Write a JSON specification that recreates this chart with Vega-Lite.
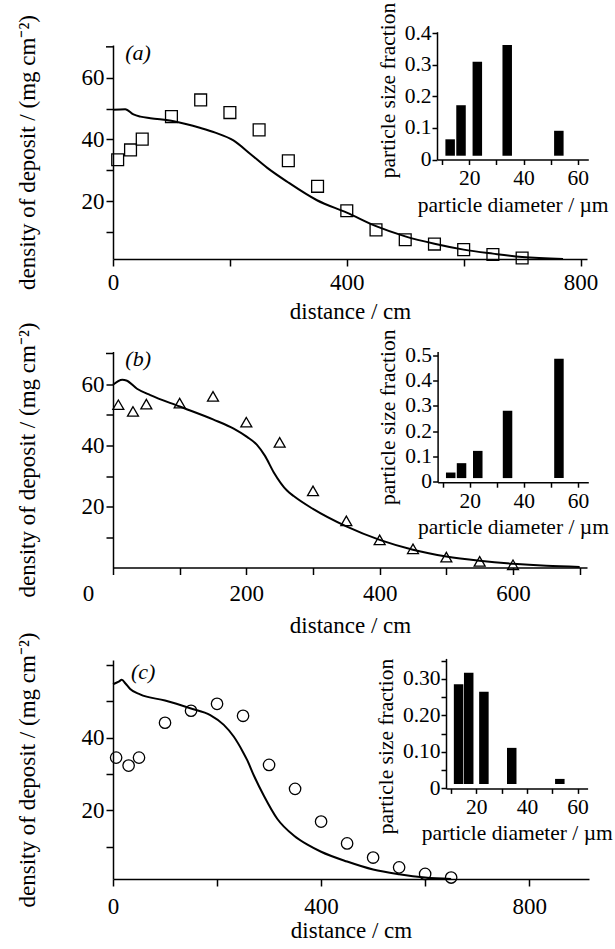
{
 "$schema": "https://vega.github.io/schema/vega-lite/v6.json",
 "padding": {"left": 15, "top": 2, "right": 2, "bottom": 5},
 "spacing": 92.5,
 "bounds": "flush",
 "config": {
  "font": "Liberation Serif",
  "view": {"stroke": null},
  "text": {"font": "Liberation Serif"},
  "axis": {"grid": false, "labelOverlap": false, "labelFlush": false, "domainColor": "black", "tickColor": "black", "labelColor": "black", "titleColor": "black", "labelFontSize": 23, "titleFontSize": 23, "titleFontWeight": "normal", "tickSize": 7, "domainWidth": 1.5, "tickWidth": 1.5, "labelPadding": 2, "labelFont": "Liberation Serif", "titleFont": "Liberation Serif"}
 },
 "datasets": {
  "curveA": [{"distance":0,"density":49.6},{"distance":21,"density":49.8},{"distance":35,"density":48.1},{"distance":47,"density":47.4},{"distance":64,"density":46.9},{"distance":104,"density":45.9},{"distance":150,"density":43.7},{"distance":175,"density":42.2},{"distance":206,"density":39.7},{"distance":235,"density":35.3},{"distance":264,"density":30.8},{"distance":298,"density":26.3},{"distance":349,"density":20.3},{"distance":400,"density":16.3},{"distance":450,"density":11.9},{"distance":500,"density":8.6},{"distance":550,"density":6.2},{"distance":600,"density":4.3},{"distance":650,"density":3.0},{"distance":700,"density":1.9},{"distance":770,"density":1.3}],
  "obsA": [{"distance":8,"density":33.4},{"distance":30,"density":36.6},{"distance":50,"density":40.1},{"distance":100,"density":47.4},{"distance":150,"density":52.8},{"distance":200,"density":48.7},{"distance":250,"density":43.1},{"distance":300,"density":33.1},{"distance":350,"density":24.8},{"distance":400,"density":16.9},{"distance":450,"density":10.7},{"distance":500,"density":7.5},{"distance":550,"density":6.1},{"distance":600,"density":4.3},{"distance":650,"density":2.7},{"distance":700,"density":1.6}],
  "psdA": [{"diameter":13,"fraction":0.064},{"diameter":17,"fraction":0.172},{"diameter":23,"fraction":0.31},{"diameter":34,"fraction":0.3625},{"diameter":53,"fraction":0.091}],
  "curveB": [{"distance":0,"density":59.8},{"distance":14,"density":61.4},{"distance":20,"density":61.2},{"distance":36,"density":58.5},{"distance":56,"density":56.4},{"distance":100,"density":52.7},{"distance":150,"density":48.5},{"distance":181,"density":45.5},{"distance":201,"density":42.8},{"distance":216,"density":40.2},{"distance":228,"density":36.6},{"distance":241,"density":31.3},{"distance":261,"density":25.3},{"distance":271,"density":23.5},{"distance":300,"density":19.3},{"distance":350,"density":13.6},{"distance":400,"density":9.2},{"distance":450,"density":6.0},{"distance":500,"density":3.8},{"distance":550,"density":2.4},{"distance":600,"density":1.4},{"distance":650,"density":0.75},{"distance":700,"density":0.4}],
  "obsB": [{"distance":8,"density":53.3},{"distance":30,"density":51.1},{"distance":50,"density":53.5},{"distance":100,"density":53.8},{"distance":150,"density":56.0},{"distance":200,"density":47.6},{"distance":250,"density":41.0},{"distance":300,"density":25.2},{"distance":350,"density":15.4},{"distance":400,"density":9.2},{"distance":450,"density":6.3},{"distance":500,"density":3.6},{"distance":550,"density":2.2},{"distance":600,"density":1.1}],
  "psdB": [{"diameter":13,"fraction":0.037},{"diameter":17,"fraction":0.074},{"diameter":23,"fraction":0.1225},{"diameter":34,"fraction":0.281},{"diameter":53,"fraction":0.486}],
  "curveC": [{"distance":0,"density":54.7},{"distance":11,"density":55.4},{"distance":17,"density":55.9},{"distance":24,"density":54.9},{"distance":33,"density":53.4},{"distance":52,"density":51.9},{"distance":100,"density":50.2},{"distance":150,"density":48.0},{"distance":187,"density":46.2},{"distance":213,"density":43.5},{"distance":232,"density":40.3},{"distance":250,"density":36.0},{"distance":258,"density":33.8},{"distance":271,"density":29.5},{"distance":290,"density":24.0},{"distance":316,"density":17.6},{"distance":348,"density":13.0},{"distance":373,"density":10.6},{"distance":400,"density":8.6},{"distance":450,"density":5.9},{"distance":500,"density":3.7},{"distance":550,"density":2.4},{"distance":600,"density":1.5},{"distance":650,"density":1.1}],
  "obsC": [{"distance":6,"density":34.5},{"distance":30,"density":32.3},{"distance":50,"density":34.5},{"distance":100,"density":44.1},{"distance":150,"density":47.4},{"distance":200,"density":49.3},{"distance":250,"density":46.0},{"distance":300,"density":32.5},{"distance":350,"density":25.9},{"distance":400,"density":16.9},{"distance":450,"density":10.9},{"distance":500,"density":7.0},{"distance":550,"density":4.3},{"distance":600,"density":2.5},{"distance":650,"density":1.5}],
  "psdC": [{"diameter":13,"fraction":0.285},{"diameter":17,"fraction":0.317},{"diameter":23,"fraction":0.265},{"diameter":34,"fraction":0.111},{"diameter":53,"fraction":0.026}]
 },
 "vconcat": [
  {
   "width": 474, "height": 214,
   "resolve": {"scale": {"x": "independent", "y": "independent"}},
   "layer": [
    {"layer": [
      {"data": {"name": "curveA"}, "mark": {"type": "line", "color": "black", "strokeWidth": 2, "interpolate": "monotone"},
       "encoding": {
        "x": {"field": "distance", "type": "quantitative", "scale": {"domain": [0, 811], "nice": false, "zero": false},
              "axis": {"values": [0,200,400,600,800], "labelOverlap": false, "labelExpr": "datum.value == 0 || datum.value == 400 || datum.value == 800 ? datum.label : ''", "title": "distance / cm", "labelPadding": 5.8, "titlePadding": 5.4}},
        "y": {"field": "density", "type": "quantitative", "scale": {"domain": [1.26, 70.6], "nice": false, "zero": false},
              "axis": {"values": [10,20,30,40,50,60], "labelOverlap": false, "labelExpr": "datum.value == 20 || datum.value == 40 || datum.value == 60 ? datum.label : ''", "title": "density of deposit / (mg cm\u207b\u00b2)", "titlePadding": 42}}
       }},
      {"data": {"values": [{"tick": 70}]}, "mark": {"type": "rule", "color": "black", "strokeWidth": 1.5},
       "encoding": {"x": {"datum": -12, "type": "quantitative"}, "x2": {"datum": 0}, "y": {"field": "tick", "type": "quantitative"}}},
      {"data": {"name": "obsA"}, "mark": {"type": "point", "shape": "square", "filled": false, "color": "black", "size": 140, "strokeWidth": 1.3, "opacity": 1},
       "encoding": {"x": {"field": "distance", "type": "quantitative"}, "y": {"field": "density", "type": "quantitative"}}},
      {"data": {"values": [{"label": "(a)"}]}, "mark": {"type": "text", "align": "left", "baseline": "middle", "fontSize": 22, "fontStyle": "italic", "color": "black"},
       "encoding": {"x": {"datum": 21, "type": "quantitative"}, "y": {"datum": 68, "type": "quantitative"}, "text": {"field": "label"}}}
    ]},
    {"data": {"name": "psdA"}, "mark": {"type": "bar", "color": "black", "width": 9.5},
     "encoding": {
      "x": {"field": "diameter", "type": "quantitative", "scale": {"domain": [10, 62], "range": [324, 475.3], "nice": false, "zero": false},
            "axis": {"orient": "bottom", "offset": -99.5, "values": [10,20,30,40,50,60], "labelOverlap": false, "labelExpr": "datum.value == 20 || datum.value == 40 || datum.value == 60 ? datum.label : ''", "title": "particle diameter / \u00b5m", "labelFontSize": 21.5, "titleFontSize": 21.5, "tickSize": 5, "labelPadding": 3, "titlePadding": 5}},
      "y": {"field": "fraction", "type": "quantitative", "scale": {"domain": [0, 0.405], "range": [114.5, -13.3], "nice": false, "zero": false},
            "axis": {"orient": "left", "offset": -324, "values": [0,0.1,0.2,0.3,0.4], "labelOverlap": false, "labelExpr": "datum.value == 0 ? '0\u00a0\u00a0' : datum.label", "title": "particle size fraction", "titleY": 45, "labelFontSize": 21.5, "titleFontSize": 21.5, "tickSize": 5, "labelPadding": 1, "titlePadding": 5}},
      "y2": {"datum": 0.012}
     }}
   ]
  },
  {
   "width": 474, "height": 216,
   "resolve": {"scale": {"x": "independent", "y": "independent"}},
   "layer": [
    {"layer": [
      {"data": {"name": "curveB"}, "mark": {"type": "line", "color": "black", "strokeWidth": 2, "interpolate": "monotone"},
       "encoding": {
        "x": {"field": "distance", "type": "quantitative", "scale": {"domain": [0, 711], "nice": false, "zero": false},
              "axis": {"values": [0,100,200,300,400,500,600,700], "labelOverlap": false, "labelExpr": "datum.value == 0 || datum.value == 200 || datum.value == 400 || datum.value == 600 ? datum.label : ''", "labelOffset": {"condition": {"test": "datum.value == 0", "value": -25}, "value": 0}, "title": "distance / cm", "labelPadding": 7.5, "titlePadding": 9.7}},
        "y": {"field": "density", "type": "quantitative", "scale": {"domain": [0.2, 70.65], "nice": false, "zero": false},
              "axis": {"values": [10,20,30,40,50,60], "labelOverlap": false, "labelExpr": "datum.value == 20 || datum.value == 40 || datum.value == 60 ? datum.label : ''", "title": "density of deposit / (mg cm\u207b\u00b2)", "titlePadding": 42}}
       }},
      {"data": {"values": [{"tick": 70}]}, "mark": {"type": "rule", "color": "black", "strokeWidth": 1.5},
       "encoding": {"x": {"datum": -10.5, "type": "quantitative"}, "x2": {"datum": 0}, "y": {"field": "tick", "type": "quantitative"}}},
      {"data": {"name": "obsB"}, "mark": {"type": "point", "shape": "triangle-up", "filled": false, "color": "black", "size": 120, "strokeWidth": 1.3, "opacity": 1},
       "encoding": {"x": {"field": "distance", "type": "quantitative"}, "y": {"field": "density", "type": "quantitative"}}},
      {"data": {"values": [{"label": "(b)"}]}, "mark": {"type": "text", "align": "left", "baseline": "middle", "fontSize": 22, "fontStyle": "italic", "color": "black"},
       "encoding": {"x": {"datum": 18.5, "type": "quantitative"}, "y": {"datum": 68.2, "type": "quantitative"}, "text": {"field": "label"}}}
    ]},
    {"data": {"name": "psdB"}, "mark": {"type": "bar", "color": "black", "width": 9.5},
     "encoding": {
      "x": {"field": "diameter", "type": "quantitative", "scale": {"domain": [10, 62], "range": [324.6, 475.3], "nice": false, "zero": false},
            "axis": {"orient": "bottom", "offset": -85.3, "values": [10,20,30,40,50,60], "labelOverlap": false, "labelExpr": "datum.value == 20 || datum.value == 40 || datum.value == 60 ? datum.label : ''", "title": "particle diameter / \u00b5m", "labelFontSize": 21.5, "titleFontSize": 21.5, "tickSize": 5, "labelPadding": 3, "titlePadding": 5}},
      "y": {"field": "fraction", "type": "quantitative", "scale": {"domain": [0, 0.515], "range": [130.4, 0], "nice": false, "zero": false},
            "axis": {"orient": "left", "offset": -324.6, "values": [0,0.1,0.2,0.3,0.4,0.5], "labelOverlap": false, "labelExpr": "datum.value == 0 ? '0\u00a0\u00a0' : datum.label", "title": "particle size fraction", "labelFontSize": 21.5, "titleFontSize": 21.5, "tickSize": 5, "labelPadding": 1, "titlePadding": 5}},
      "y2": {"datum": 0.015}
     }}
   ]
  },
  {
   "width": 476, "height": 219,
   "resolve": {"scale": {"x": "independent", "y": "independent"}},
   "layer": [
    {"layer": [
      {"data": {"name": "curveC"}, "mark": {"type": "line", "color": "black", "strokeWidth": 2, "interpolate": "monotone"},
       "encoding": {
        "x": {"field": "distance", "type": "quantitative", "scale": {"domain": [0, 915], "nice": false, "zero": false},
              "axis": {"values": [0,200,400,600,800], "labelOverlap": false, "labelExpr": "datum.value == 0 || datum.value == 400 || datum.value == 800 ? datum.label : ''", "title": "distance / cm", "labelPadding": 9.5, "titlePadding": 1.2}},
        "y": {"field": "density", "type": "quantitative", "scale": {"domain": [1.1, 61.36], "nice": false, "zero": false},
              "axis": {"values": [10,20,30,40,50,60], "labelOverlap": false, "labelExpr": "datum.value == 20 || datum.value == 40 ? datum.label : ''", "title": "density of deposit / (mg cm\u207b\u00b2)", "titlePadding": 42}}
       }},
      {"data": {"name": "obsC"}, "mark": {"type": "point", "shape": "circle", "filled": false, "color": "black", "size": 130, "strokeWidth": 1.3, "opacity": 1},
       "encoding": {"x": {"field": "distance", "type": "quantitative"}, "y": {"field": "density", "type": "quantitative"}}},
      {"data": {"values": [{"label": "(c)"}]}, "mark": {"type": "text", "align": "left", "baseline": "middle", "fontSize": 22, "fontStyle": "italic", "color": "black"},
       "encoding": {"x": {"datum": 34.6, "type": "quantitative"}, "y": {"datum": 58.1, "type": "quantitative"}, "text": {"field": "label"}}}
    ]},
    {"data": {"name": "psdC"}, "mark": {"type": "bar", "color": "black", "width": 9.5},
     "encoding": {
      "x": {"field": "diameter", "type": "quantitative", "scale": {"domain": [10, 62], "range": [333, 474.6], "nice": false, "zero": false},
            "axis": {"orient": "bottom", "offset": -90.6, "values": [10,20,30,40,50,60], "labelOverlap": false, "labelExpr": "datum.value == 20 || datum.value == 40 || datum.value == 60 ? datum.label : ''", "title": "particle diameter / \u00b5m", "labelFontSize": 21.5, "titleFontSize": 21.5, "tickSize": 5, "labelPadding": 3, "titlePadding": 5}},
      "y": {"field": "fraction", "type": "quantitative", "scale": {"domain": [0, 0.356], "range": [128.4, -1.6], "nice": false, "zero": false},
            "axis": {"orient": "left", "offset": -333, "values": [0,0.05,0.1,0.15,0.2,0.25,0.3,0.35], "labelOverlap": false, "labelExpr": "datum.value == 0 ? '0' : (abs(datum.value*10 - round(datum.value*10)) < 0.01 ? format(datum.value, '.2f') : '')", "title": "particle size fraction", "titleY": 86, "labelFontSize": 21.5, "titleFontSize": 21.5, "tickSize": 5, "labelPadding": 1, "titlePadding": 5}},
      "y2": {"datum": 0.012}
     }}
   ]
  }
 ]
}
